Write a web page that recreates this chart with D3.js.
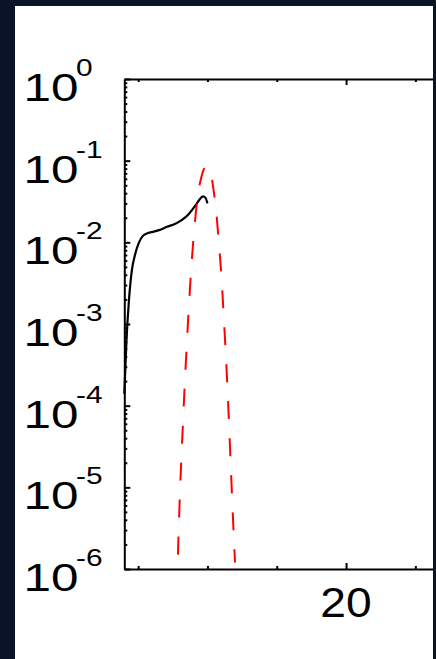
<!DOCTYPE html>
<html>
<head>
<meta charset="utf-8">
<script src="https://cdn.jsdelivr.net/npm/d3@7"></script>
<style>
  html, body { margin: 0; padding: 0; background: #0a1328; }
  svg { display: block; }
  text { font-family: "Liberation Sans", Arial, Helvetica, sans-serif; fill: #000; }
</style>
</head>
<body>
<svg id="chart" width="436" height="659"></svg>
<script>
// Solid black profile: x position and value
const solidX = [4.0, 4.16, 4.34, 4.55, 4.77, 5.06, 5.34, 5.7, 6.13, 6.57, 7.08, 7.65, 8.16, 8.59, 8.95, 9.24, 9.46, 9.68, 9.86, 10.0];
const solidY = [1.4e-4, 6.4e-4, 2.0e-3, 4.6e-3, 7.0e-3, 1.0e-2, 1.2e-2, 1.3e-2, 1.35e-2, 1.42e-2, 1.55e-2, 1.68e-2, 1.88e-2, 2.16e-2, 2.57e-2, 3.0e-2, 3.4e-2, 3.65e-2, 3.5e-2, 3.0e-2];

// Dashed red profile: x position and value
const dashedX = [7.87, 8.02, 8.17, 8.32, 8.47, 8.62, 8.80, 8.98, 9.16, 9.36, 9.58, 9.80, 10.0, 10.2, 10.42, 10.62, 10.82, 11.0, 11.18, 11.35, 11.5, 11.65, 11.8, 11.99];
const dashedY = [1.5e-6, 9e-6, 3.5e-5, 1.3e-4, 4.2e-4, 1.25e-3, 4e-3, 1.05e-2, 2.3e-2, 4.3e-2, 6.5e-2, 8.2e-2, 8.6e-2, 7.8e-2, 4.6e-2, 2.5e-2, 1.0e-2, 4e-3, 1.2e-3, 3.5e-4, 1.0e-4, 2.5e-5, 6e-6, 1.2e-6];

// Axis ticks
const yDecades = [0, -1, -2, -3, -4, -5, -6];
const xMajorTicks = [20];
const xMinorTicks = [5, 10, 15, 25, 30, 35];
const xTickLabels = ["20"];

const svg = d3.select("#chart");

// white panel
svg.append("rect")
  .attr("x", 15).attr("y", 6)
  .attr("width", 418).attr("height", 653)
  .attr("fill", "#ffffff");

svg.append("clipPath").attr("id", "panel")
  .append("rect").attr("x", 15).attr("y", 6).attr("width", 418).attr("height", 653);

const root = svg.append("g").attr("clip-path", "url(#panel)");

const plotLeft = 124.3, plotTop = 79, plotBottom = 569;
const pxPerUnit = 13.86;
const x = d3.scaleLinear().domain([4, 40]).range([plotLeft, plotLeft + 36 * pxPerUnit]);
const y = d3.scaleLog().domain([1e-6, 1]).range([plotBottom, plotTop]);

const majorY = yDecades.map(k => Math.pow(10, k));
const minorY = [];
yDecades.slice(1).forEach(k => {
  for (let m = 2; m <= 9; m++) minorY.push(m * Math.pow(10, k));
});

function styleAxis(g) {
  g.select(".domain").attr("stroke", "#000").attr("stroke-width", 2);
  g.selectAll(".tick line").attr("stroke", "#000").attr("stroke-width", 2);
  g.selectAll(".tick text").remove();
}

// left axis (ticks point inward)
root.append("g").attr("transform", `translate(${plotLeft},0)`)
  .call(d3.axisLeft(y).tickValues(majorY).tickSize(-6).tickSizeOuter(0).tickFormat(""))
  .call(styleAxis);
root.append("g").attr("transform", `translate(${plotLeft},0)`)
  .call(d3.axisLeft(y).tickValues(minorY).tickSize(-3).tickSizeOuter(0).tickFormat(""))
  .call(styleAxis)
  .call(g => g.select(".domain").remove());

// bottom axis
root.append("g").attr("transform", `translate(0,${plotBottom})`)
  .call(d3.axisBottom(x).tickValues(xMajorTicks).tickSize(-6).tickSizeOuter(0).tickFormat(""))
  .call(styleAxis);
root.append("g").attr("transform", `translate(0,${plotBottom})`)
  .call(d3.axisBottom(x).tickValues(xMinorTicks).tickSize(-3).tickSizeOuter(0).tickFormat(""))
  .call(styleAxis)
  .call(g => g.select(".domain").remove());

// top axis
root.append("g").attr("transform", `translate(0,${plotTop})`)
  .call(d3.axisTop(x).tickValues(xMajorTicks).tickSize(-6).tickSizeOuter(0).tickFormat(""))
  .call(styleAxis);
root.append("g").attr("transform", `translate(0,${plotTop})`)
  .call(d3.axisTop(x).tickValues(xMinorTicks).tickSize(-3).tickSizeOuter(0).tickFormat(""))
  .call(styleAxis)
  .call(g => g.select(".domain").remove());

// y tick labels: 10^k
yDecades.forEach(k => {
  const g = root.append("g")
    .attr("transform", `translate(23.6,${y(Math.pow(10, k)) + 22}) scale(1.3,1)`);
  const t = g.append("text").attr("x", 0).attr("y", 0).attr("font-size", 38);
  t.append("tspan").text("10");
  t.append("tspan").attr("font-size", 23).attr("dy", -25).attr("dx", -2).text(String(k));
});

// x tick labels
xMajorTicks.forEach((v, i) => {
  root.append("g")
    .attr("transform", `translate(${x(v)},${plotBottom + 48}) scale(1.1,1)`)
    .append("text")
    .attr("text-anchor", "middle")
    .attr("font-size", 42)
    .text(xTickLabels[i]);
});

// curves
const solidLine = d3.line()
  .x((d, i) => x(solidX[i]))
  .y(d => y(d))
  .curve(d3.curveMonotoneX);
root.append("path")
  .attr("d", solidLine(solidY))
  .attr("fill", "none")
  .attr("stroke", "#000")
  .attr("stroke-width", 2.2);

const dashedLine = d3.line()
  .x((d, i) => x(dashedX[i]))
  .y(d => y(d))
  .curve(d3.curveMonotoneX);
root.append("path")
  .attr("d", dashedLine(dashedY))
  .attr("fill", "none")
  .attr("stroke", "#ff0000")
  .attr("stroke-width", 2)
  .attr("stroke-dasharray", "18,19");
</script>
</body>
</html>
